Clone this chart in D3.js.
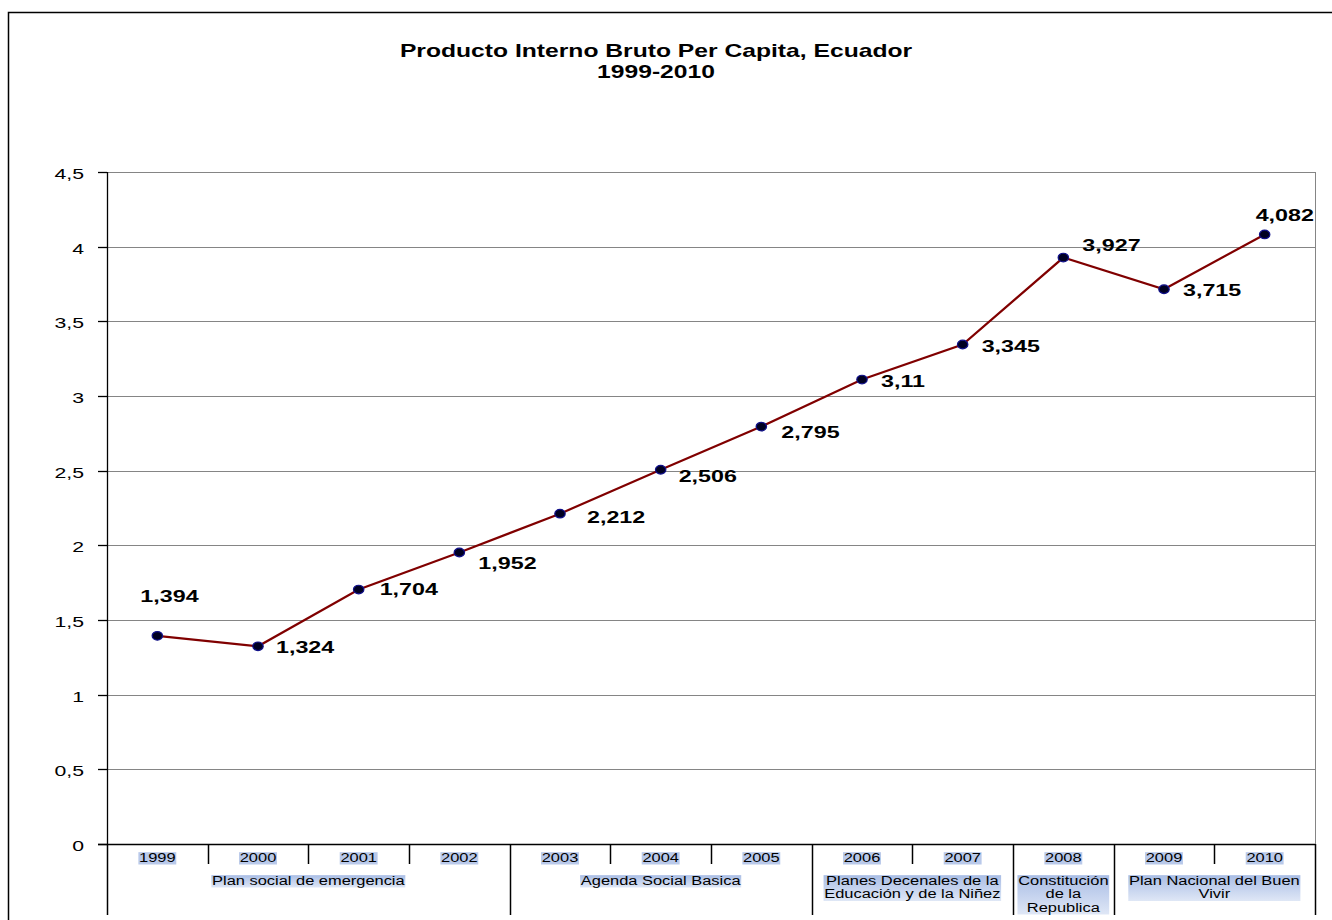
<!DOCTYPE html>
<html>
<head>
<meta charset="utf-8">
<script src="https://cdn.jsdelivr.net/npm/d3@7"></script>
<style>
  html, body { margin: 0; padding: 0; background: #fff; }
  svg { display: block; }
  text { font-family: Arial, "Liberation Sans", sans-serif; fill: #000; }
</style>
</head>
<body>
<svg id="chart" width="1332" height="920"></svg>
<script>
// ---- data ----
const years = ["1999", "2000", "2001", "2002", "2003", "2004", "2005", "2006", "2007", "2008", "2009", "2010"];
const pibPerCapita = [1.394, 1.324, 1.704, 1.952, 2.212, 2.506, 2.795, 3.11, 3.345, 3.927, 3.715, 4.082];
const yTicks = [0, 0.5, 1, 1.5, 2, 2.5, 3, 3.5, 4, 4.5];
const yTickLabels = ["0", "0,5", "1", "1,5", "2", "2,5", "3", "3,5", "4", "4,5"];
const policyLabels = [
  ["Plan social de emergencia"],
  ["Agenda Social Basica"],
  ["Planes Decenales de la", "Educación y de la Niñez"],
  ["Constitución", "de la", "Republica"],
  ["Plan Nacional del Buen", "Vivir"]
];
const policyYearCounts = [4, 3, 2, 1, 2];
const titleLines = ["Producto Interno Bruto Per Capita, Ecuador", "1999-2010"];

// ---- layout ----
const plot = { left: 107, right: 1315, top: 172, bottom: 844 };
const SX = 1.37;               // wide text rendering
// value label placement relative to each marker (dx, dy to baseline)
const labelPlacement = [
  [-17, -34], [18, 7], [21, 5], [19, 16], [27, 9], [18, 12],
  [20, 11], [19, 7], [19, 8], [19, -7], [19, 7], [-9, -13]
];

const svg = d3.select("#chart");

const defs = svg.append("defs");
const grad = defs.append("linearGradient").attr("id", "hl").attr("x1", 0).attr("y1", 0).attr("x2", 0).attr("y2", 1);
grad.append("stop").attr("offset", "0%").attr("stop-color", "#a9bde5");
grad.append("stop").attr("offset", "100%").attr("stop-color", "#dfe7f6");

// outer chart frame
svg.append("rect")
  .attr("x", 8.5).attr("y", 12.5).attr("width", 1340).attr("height", 1000)
  .attr("fill", "#fff").attr("stroke", "#000").attr("stroke-width", 1.5);

const x = d3.scaleBand().domain(years).range([plot.left, plot.right]).padding(0);
const y = d3.scaleLinear().domain([0, 4.5]).range([plot.bottom, plot.top]);

// stretched text helper
function wideText(parent, tx, ty, str, opts) {
  const g = parent.append("g").attr("transform", `translate(${tx},${ty}) scale(${SX},1)`);
  const t = g.append("text")
    .attr("x", 0).attr("y", 0)
    .attr("text-anchor", opts.anchor || "start")
    .style("font-size", opts.size + "px")
    .style("font-weight", opts.bold ? "bold" : "normal")
    .text(str);
  return { g, t };
}

// title
titleLines.forEach((line, i) => {
  wideText(svg, 656, 57 + i * 21, line, { size: 18, bold: true, anchor: "middle" });
});

// gridlines
svg.append("g").selectAll("line").data(yTicks.filter(d => d > 0)).join("line")
  .attr("x1", plot.left).attr("x2", plot.right)
  .attr("y1", d => Math.round(y(d)) + 0.5).attr("y2", d => Math.round(y(d)) + 0.5)
  .attr("stroke", "#858585").attr("stroke-width", 1);

// plot area right border
svg.append("line")
  .attr("x1", plot.right + 0.5).attr("x2", plot.right + 0.5)
  .attr("y1", plot.top).attr("y2", plot.bottom)
  .attr("stroke", "#858585");

// y axis
const yAxis = svg.append("g");
yAxis.append("line")
  .attr("x1", plot.left + 0.5).attr("x2", plot.left + 0.5)
  .attr("y1", plot.top).attr("y2", plot.bottom + 1)
  .attr("stroke", "#000").attr("stroke-width", 1.3);
yTicks.forEach((v, i) => {
  const yy = Math.round(y(v)) + 0.5;
  yAxis.append("line").attr("x1", plot.left - 9).attr("x2", plot.left).attr("y1", yy).attr("y2", yy)
    .attr("stroke", "#000").attr("stroke-width", 1.3);
  wideText(yAxis, 84, yy + 6, yTickLabels[i], { size: 15.5, anchor: "end" });
});

// x axis and category separators
const xAxis = svg.append("g");
xAxis.append("line")
  .attr("x1", plot.left - 9).attr("x2", plot.right)
  .attr("y1", plot.bottom + 0.5).attr("y2", plot.bottom + 0.5)
  .attr("stroke", "#000").attr("stroke-width", 1.5);

// boundaries between policy periods
const groupBounds = [0];
policyYearCounts.forEach(n => groupBounds.push(groupBounds[groupBounds.length - 1] + n));
const boundaryX = i => i < years.length ? x(years[i]) : x(years[years.length - 1]) + x.bandwidth();

for (let i = 0; i <= years.length; i++) {
  const isGroup = groupBounds.includes(i);
  const xx = Math.round(boundaryX(i)) + 0.5;
  xAxis.append("line")
    .attr("x1", xx).attr("x2", xx)
    .attr("y1", plot.bottom).attr("y2", isGroup ? 915 : 864)
    .attr("stroke", "#000").attr("stroke-width", 1.5);
}

// highlighted label helper (text lines with a shaded box behind)
function highlightedLabel(cx, baseY, lines, size, lineGap, fill) {
  const g = svg.append("g").attr("transform", `translate(${cx},${baseY}) scale(${SX},1)`);
  const rect = g.append("rect");
  const t = g.append("text").attr("text-anchor", "middle").style("font-size", size + "px");
  lines.forEach((ln, i) => {
    t.append("tspan").attr("x", 0).attr("y", i * lineGap).text(ln);
  });
  const bb = t.node().getBBox();
  rect.attr("x", bb.x - 0.5).attr("y", bb.y + 1).attr("width", bb.width + 1).attr("height", bb.height - 1)
    .attr("fill", fill);
}

years.forEach(yr => {
  highlightedLabel(x(yr) + x.bandwidth() / 2, 862, [yr], 12, 13, "#b9c9ea");
});

policyLabels.forEach((lines, i) => {
  const x0 = boundaryX(groupBounds[i]);
  const x1 = boundaryX(groupBounds[i + 1]);
  highlightedLabel((x0 + x1) / 2, 885, lines, 12, 13.5, "url(#hl)");
});

// series line
const line = d3.line().x((d, i) => x(years[i]) + x.bandwidth() / 2).y(d => y(d));
svg.append("path")
  .datum(pibPerCapita)
  .attr("d", line)
  .attr("fill", "none")
  .attr("stroke", "#800000")
  .attr("stroke-width", 2.2);

// markers
svg.append("g").selectAll("ellipse").data(pibPerCapita).join("ellipse")
  .attr("cx", (d, i) => x(years[i]) + x.bandwidth() / 2)
  .attr("cy", d => y(d))
  .attr("rx", 5.2)
  .attr("ry", 4.3)
  .attr("fill", "#000022")
  .attr("stroke", "#10108a")
  .attr("stroke-width", 1.2);

// value labels
const fmt = v => String(v).replace(".", ",");
pibPerCapita.forEach((v, i) => {
  const px = x(years[i]) + x.bandwidth() / 2;
  const py = y(v);
  wideText(svg, px + labelPlacement[i][0], py + labelPlacement[i][1], fmt(v), { size: 17, bold: true });
});
</script>
</body>
</html>
